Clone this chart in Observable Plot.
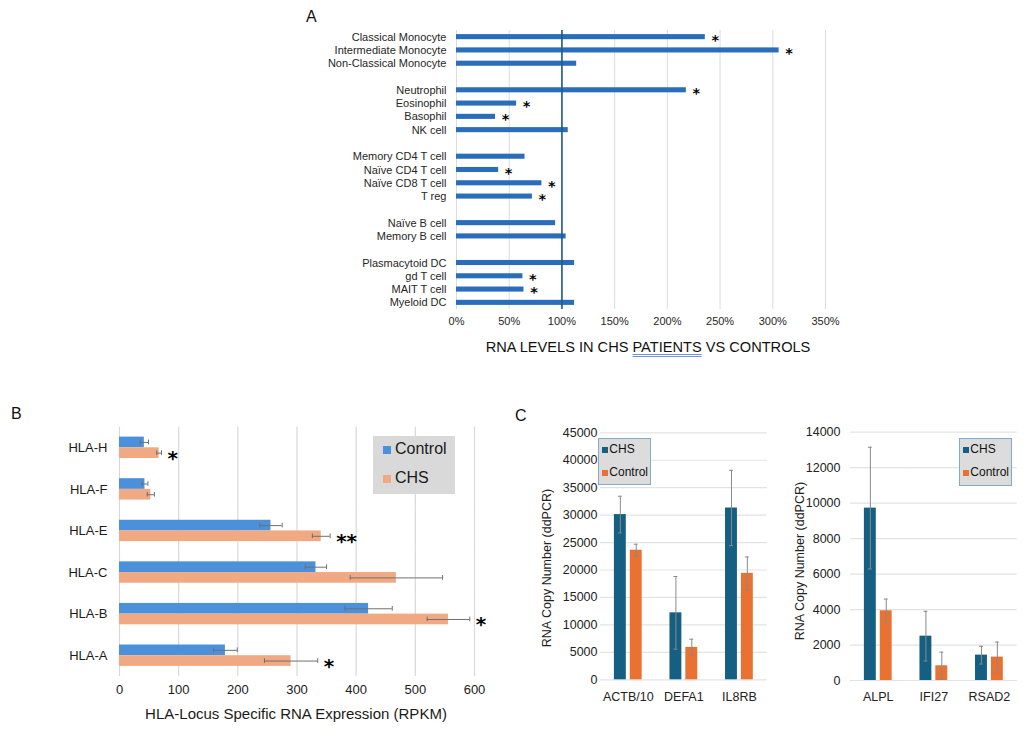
<!DOCTYPE html>
<html><head><meta charset="utf-8">
<script src="https://cdn.jsdelivr.net/npm/d3@7"></script>
<script src="https://cdn.jsdelivr.net/npm/@observablehq/plot@0.6"></script>
<style>
body{margin:0;background:#fff;font-family:"Liberation Sans",Arial,sans-serif;}
#root{position:relative;width:1034px;height:740px;overflow:hidden;background:#fff;}
.abs{position:absolute;}
.panel{position:absolute;font-size:16px;color:#111;}
.legB{position:absolute;background:#d9d9d9;}
.legC{position:absolute;background:#dcdcdc;border:1.5px solid #86a9c9;box-sizing:border-box;font-size:12px;color:#111;}
.sw{position:absolute;}
.ylab{position:absolute;width:220px;text-align:center;font-size:12.5px;color:#222;transform:rotate(-90deg);transform-origin:center center;white-space:nowrap;line-height:16px;}
</style></head><body><div id="root"></div>
<script>
// ---------- Panel A data ----------
const cellTypes = ["Classical Monocyte","Intermediate Monocyte","Non-Classical Monocyte","",
  "Neutrophil","Eosinophil","Basophil","NK cell","",
  "Memory CD4 T cell","Naïve CD4 T cell","Naïve CD8 T cell","T reg","",
  "Naïve B cell","Memory B cell","",
  "Plasmacytoid DC","gd T cell","MAIT T cell","Myeloid DC"];
const rnaRatio = [2.36,3.06,1.14,null, 2.18,0.57,0.37,1.06,null, 0.65,0.40,0.81,0.72,null, 0.94,1.04,null, 1.12,0.63,0.64,1.12];
const ratioSig = [1,1,0,0, 1,1,1,0,0, 0,1,1,1,0, 0,0,0, 0,1,1,0];
const ratioTicks = [0,0.5,1,1.5,2,2.5,3,3.5];

// ---------- Panel B data ----------
const hlaLoci = ["HLA-H","HLA-F","HLA-E","HLA-C","HLA-B","HLA-A"];
const controlRPKM = [42,43,256,332,421,179];
const controlErr = [7,5,19,18,40,20];
const chsRPKM = [67,53,341,468,556,290];
const chsErr = [4,6,15,78,36,45];
const chsSig = ["*","","**","","*","*"];
const rpkmTicks = [0,100,200,300,400,500,600];

// ---------- Panel C data ----------
const genesC1 = ["ACTB/10","DEFA1","IL8RB"];
const chsC1 = [30100,12200,31300];
const chsErrC1 = [3340,6620,6860];
const ctrlC1 = [23600,5900,19400];
const ctrlErrC1 = [1100,1490,2980];
const ticksC1 = [0,5000,10000,15000,20000,25000,30000,35000,40000,45000];

const genesC2 = ["ALPL","IFI27","RSAD2"];
const chsC2 = [9720,2500,1430];
const chsErrC2 = [3430,1400,500];
const ctrlC2 = [3930,830,1320];
const ctrlErrC2 = [660,770,845];
const ticksC2 = [0,2000,4000,6000,8000,10000,12000,14000];

const root = document.getElementById("root");
function place(el, left, top){ el.style.position="absolute"; el.style.left=left+"px"; el.style.top=top+"px"; root.appendChild(el); return el; }
function div(cls, html, css){ const d=document.createElement("div"); d.className=cls; d.innerHTML=html; Object.assign(d.style, css||{}); root.appendChild(d); return d; }

// ---------- Panel A ----------
const rowsA = cellTypes.map((name,i)=>({key: name || ("gap"+i), name, value: rnaRatio[i], sig: ratioSig[i]}));
const cellsA = rowsA.filter(d=>d.name);
const nameOf = new Map(rowsA.map(d=>[d.key,d.name]));
const plotA = Plot.plot({
  width: 560, height: 314,
  marginLeft: 156, marginRight: 35, marginTop: 10, marginBottom: 25,
  style: {fontFamily: "'Liberation Sans', Arial, sans-serif", fontSize: "11px", color: "#262626", background: "transparent", overflow:"visible"},
  x: {domain: [0,3.5], ticks: ratioTicks, tickFormat: d3.format(".0%"), tickSize: 0, tickPadding: 8, label: null},
  y: {domain: rowsA.map(d=>d.key), padding: 0, round: false, tickSize: 0, tickPadding: 10, tickFormat: k => nameOf.get(k), label: null},
  marks: [
    Plot.ruleX(ratioTicks, {stroke: "#dcdcdc", strokeWidth: 1}),
    Plot.barX(cellsA, {x1: 0, x2: "value", y: "key", fill: "#2a6ebb", insetTop: 4.1, insetBottom: 4.1}),
    Plot.ruleX([1], {stroke: "#1d5c8a", strokeWidth: 1.6}),
    Plot.text(cellsA.filter(d=>d.sig), {x: "value", y: "key", text: () => "*", dx: 10, dy: 3, fontSize: 14.5, fontWeight: "bold", fontFamily: "'DejaVu Sans', sans-serif", fill: "#000"})
  ]
});
place(plotA, 300, 20);
div("panel", "A", {left:"306px", top:"8px"});
div("abs", 'RNA LEVELS IN CHS <span style="text-decoration:underline double #6f93d8;text-underline-offset:2px;">PATIENTS</span> VS CONTROLS',
  {left:"448px", top:"339px", width:"400px", textAlign:"center", fontSize:"14.6px", color:"#111", whiteSpace:"nowrap"});

// ---------- Panel B ----------
const rowsB = [];
hlaLoci.forEach((l,i)=>{
  rowsB.push({locus:l, group:"Control", value:controlRPKM[i], err:controlErr[i], sig:""});
  rowsB.push({locus:l, group:"CHS", value:chsRPKM[i], err:chsErr[i], sig:chsSig[i]});
});
const plotB = Plot.plot({
  width: 520, height: 326,
  marginLeft: 119, marginRight: 46, marginTop: 26.5, marginBottom: 50,
  style: {fontFamily: "'Liberation Sans', Arial, sans-serif", fontSize: "13px", color: "#1a1a1a", background: "transparent", overflow:"visible"},
  fy: {domain: hlaLoci, padding: 0, round: false, axis: "left", tickSize: 0, tickPadding: 12, label: null},
  y: {domain: ["Control","CHS"], paddingInner: 0, paddingOuter: 0.943, round: false, axis: null},
  x: {domain: [0,600], ticks: rpkmTicks, tickSize: 0, label: null},
  color: {domain: ["Control","CHS"], range: ["#4a90da","#f1a983"]},
  marks: [
    Plot.ruleX(rpkmTicks, {stroke: "#d9d9d9", strokeWidth: 1.2}),
    Plot.barX(rowsB, {x1: 0, x2: "value", y: "group", fy: "locus", fill: "group"}),
    Plot.ruleY(rowsB, {y: "group", fy: "locus", x1: d=>d.value-d.err, x2: d=>d.value+d.err, stroke: "#707070", strokeWidth: 1}),
    Plot.tickX(rowsB, {x: d=>d.value-d.err, y: "group", fy: "locus", stroke: "#707070", insetTop: 3, insetBottom: 3}),
    Plot.tickX(rowsB, {x: d=>d.value+d.err, y: "group", fy: "locus", stroke: "#707070", insetTop: 3, insetBottom: 3}),
    Plot.text(rowsB.filter(d=>d.sig), {x: d=>d.value+d.err, y: "group", fy: "locus", text: "sig", textAnchor: "start", dx: 6, dy: 5.5, fontSize: 20, fontWeight: "bold", fontFamily: "'DejaVu Sans', sans-serif", fill: "#000"}),
    Plot.axisX(rpkmTicks, {tickSize: 0, tickPadding: 8, fontSize: 13, label: null})
  ]
});
place(plotB, 0, 400);
div("abs", "HLA-Locus Specific RNA Expression (RPKM)", {left:"96px", top:"705px", width:"400px", textAlign:"center", fontSize:"15px", color:"#1a1a1a", whiteSpace:"nowrap"});
div("panel", "B", {left:"11px", top:"405px"});
const lb = div("legB", "", {left:"373px", top:"436px", width:"82px", height:"58px"});
lb.innerHTML = '<div class="sw" style="left:10px;top:10px;width:8px;height:8px;background:#4a90da"></div>' +
  '<div style="position:absolute;left:22px;top:4px;font-size:16px;color:#1a1a1a">Control</div>' +
  '<div class="sw" style="left:10px;top:39px;width:8px;height:8px;background:#f1a983"></div>' +
  '<div style="position:absolute;left:22px;top:33px;font-size:16px;color:#1a1a1a">CHS</div>';

// ---------- Panel C ----------
function chartC(genes, chs, chsErr, ctrl, ctrlErr, ticks, maxY, mTop, plotH, tickPad){
  const rows = [];
  genes.forEach((g,i)=>{
    rows.push({gene:g, group:"CHS", value:chs[i], err:chsErr[i]});
    rows.push({gene:g, group:"Control", value:ctrl[i], err:ctrlErr[i]});
  });
  return Plot.plot({
    width: 250, height: mTop + plotH + 50,
    marginLeft: 80, marginRight: 3.3, marginTop: mTop, marginBottom: 50,
    style: {fontFamily: "'Liberation Sans', Arial, sans-serif", fontSize: "12.5px", color: "#222", background: "transparent", overflow:"visible"},
    fx: {domain: genes, padding: 0, round: false, axis: "bottom", tickSize: 0, tickPadding: 12, label: null},
    x: {domain: ["CHS","Control"], paddingInner: 0.25, paddingOuter: 0.875, round: false, axis: null},
    y: {domain: [0,maxY], ticks: ticks, tickFormat: d3.format("d"), tickSize: 0, tickPadding: tickPad, label: null},
    color: {domain: ["CHS","Control"], range: ["#156082","#e97132"]},
    marks: [
      Plot.ruleY(ticks, {stroke: "#e3e3e3", strokeWidth: 1.2}),
      Plot.barY(rows, {x: "group", fx: "gene", y1: 0, y2: "value", fill: "group"}),
      Plot.ruleX(rows, {x: "group", fx: "gene", y1: d=>d.value-d.err, y2: d=>d.value+d.err, stroke: "#8a8a8a", strokeWidth: 1}),
      Plot.tickY(rows, {x: "group", fx: "gene", y: d=>d.value+d.err, stroke: "#8a8a8a", insetLeft: 4, insetRight: 4}),
      Plot.tickY(rows, {x: "group", fx: "gene", y: d=>d.value-d.err, stroke: "#8a8a8a", insetLeft: 4, insetRight: 4})
    ]
  });
}
const plotC1 = chartC(genesC1, chsC1, chsErrC1, ctrlC1, ctrlErrC1, ticksC1, 45000, 32.3, 247, 3);
place(plotC1, 520, 400);
const plotC2 = chartC(genesC2, chsC2, chsErrC2, ctrlC2, ctrlErrC2, ticksC2, 14000, 31.7, 248.3, 10);
place(plotC2, 770, 400);
div("panel", "C", {left:"515px", top:"407px"});
div("ylab", "RNA Copy Number (ddPCR)", {left:(547-110)+"px", top:(568-8)+"px"});
div("ylab", "RNA Copy Number (ddPCR)", {left:(800-110)+"px", top:(561-8)+"px"});

function legendC(left, top, w, h){
  const d = div("legC", "", {left:left+"px", top:top+"px", width:w+"px", height:h+"px"});
  d.innerHTML = '<div class="sw" style="left:3px;top:8px;width:6px;height:6px;background:#156082"></div>' +
    '<div style="position:absolute;left:10px;top:3px">CHS</div>' +
    '<div class="sw" style="left:3px;top:31px;width:6px;height:6px;background:#e97132"></div>' +
    '<div style="position:absolute;left:10px;top:26px">Control</div>';
}
legendC(598.3, 438.3, 52.7, 46.7);
legendC(959.3, 438.3, 52.4, 47.7);
</script></body></html>
